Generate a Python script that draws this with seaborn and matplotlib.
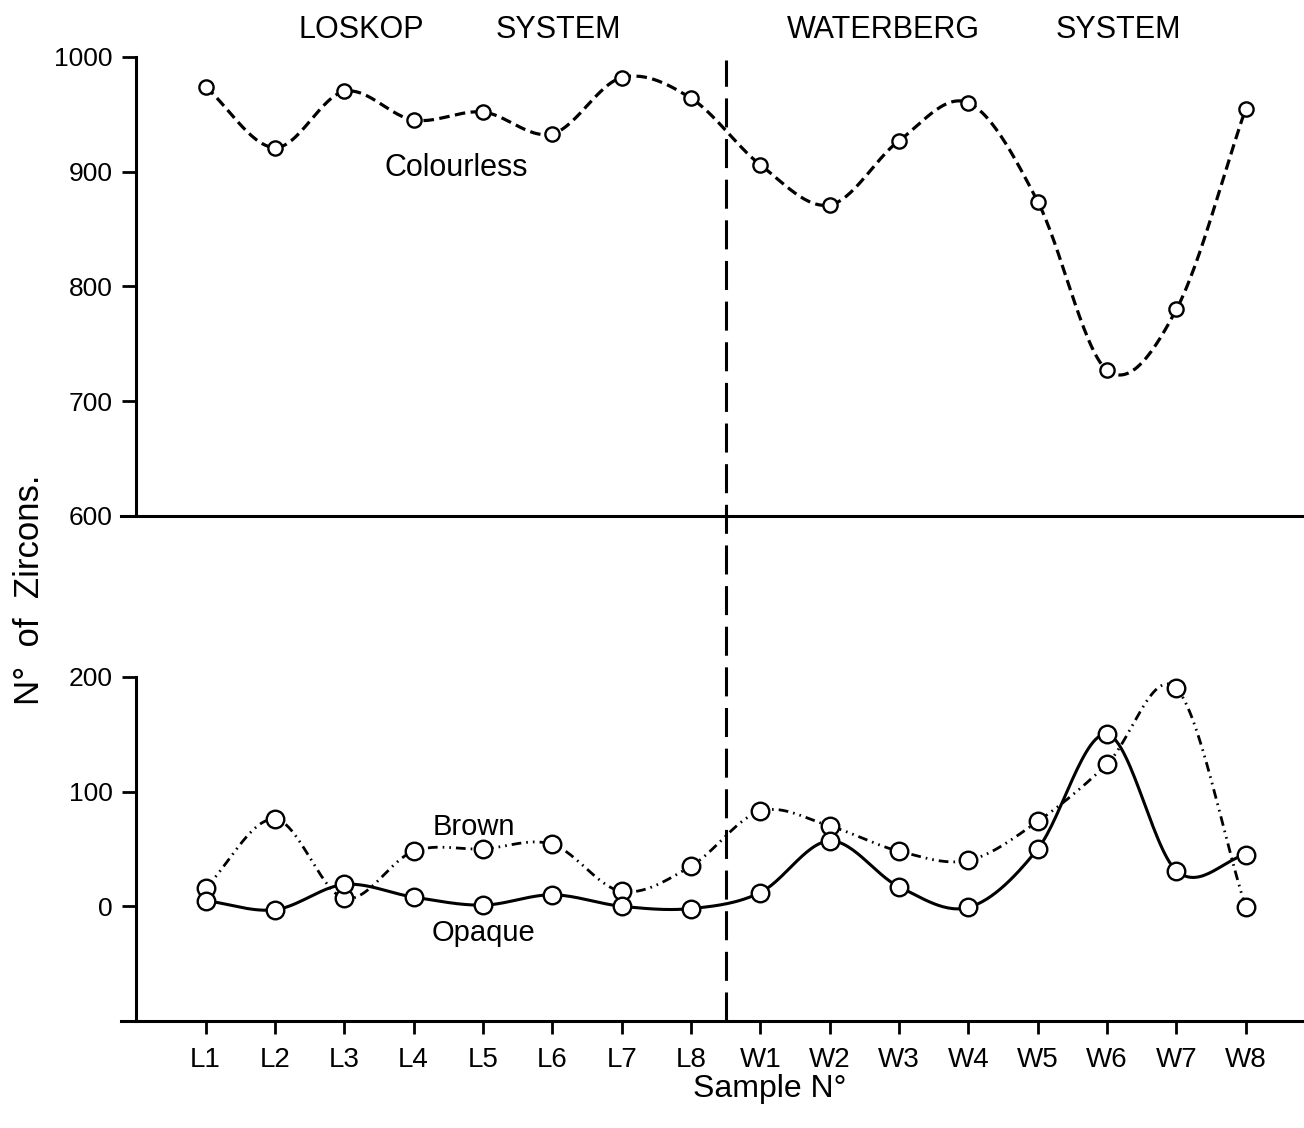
import numpy as np
import matplotlib
matplotlib.use("Agg")
import matplotlib.pyplot as plt
import matplotlib.transforms as mtransforms
from matplotlib.lines import Line2D
import seaborn as sns

# ─────────────────────────────────────────────────────────────
# DATA
# ─────────────────────────────────────────────────────────────
samples = ["L1", "L2", "L3", "L4", "L5", "L6", "L7", "L8",
           "W1", "W2", "W3", "W4", "W5", "W6", "W7", "W8"]
colourless = [974, 921, 970, 945, 952, 933, 982, 964,
              906, 871, 927, 960, 874, 727, 780, 955]
brown = [16, 76, 7, 48, 50, 54, 13, 35,
         83, 70, 48, 40, 74, 124, 190, -1]
opaque = [5, -3, 19, 8, 1, 10, 0, -2,
          12, 57, 17, -1, 50, 150, 31, 45]
top_ticks = [600, 700, 800, 900, 1000]
bottom_ticks = [0, 100, 200]
systems = ["LOSKOP", "SYSTEM", "WATERBERG", "SYSTEM"]

sns.set_style("white")
plt.rcParams['font.family'] = ['Liberation Sans', 'DejaVu Sans']
plt.rcParams['text.color'] = 'black'
plt.rcParams['axes.labelcolor'] = 'black'
plt.rcParams['xtick.color'] = 'black'
plt.rcParams['ytick.color'] = 'black'


def smooth_curve(xv, yv, n=30):
    """Catmull-Rom curve through the points, for a hand-drawn look."""
    p = np.column_stack([xv, yv]).astype(float)
    p = np.vstack([2 * p[0] - p[1], p, 2 * p[-1] - p[-2]])
    t = np.linspace(0, 1, n, endpoint=False)[:, None]
    out = []
    for i in range(1, len(p) - 2):
        p0, p1, p2, p3 = p[i - 1], p[i], p[i + 1], p[i + 2]
        seg = 0.5 * (2 * p1 + (-p0 + p2) * t
                     + (2 * p0 - 5 * p1 + 4 * p2 - p3) * t ** 2
                     + (-p0 + 3 * p1 - 3 * p2 + p3) * t ** 3)
        out.append(seg)
    out.append(p[-2][None, :])
    out = np.vstack(out)
    return out[:, 0], out[:, 1]


def draw_series(ax, xv, yv, ls, lw, msize):
    cx, cy = smooth_curve(xv, yv)
    sns.lineplot(x=cx, y=cy, ax=ax, sort=False, estimator=None,
                 color="black", lw=lw, linestyle=ls, zorder=3)
    sns.scatterplot(x=xv, y=yv, ax=ax, s=msize, marker="o",
                    color="white", edgecolor="black", linewidth=1.7, zorder=5)


fig = plt.figure(figsize=(13.04, 11.28), dpi=100)
ax_top = fig.add_axes([0.0928, 0.5426, 0.9072, 0.4069])
ax_bot = fig.add_axes([0.0928, 0.0949, 0.9072, 0.3050])

xpos = np.arange(len(samples))
xlim = (-1.22, 15.84)

# ── top panel: colourless ───────────────────────────────────
draw_series(ax_top, xpos, colourless, (0, (3.3, 1.7)), 2.3, 105)
ax_top.set_xlim(*xlim)
ax_top.set_ylim(600, 1000)
ax_top.set_yticks(top_ticks)
ax_top.set_xticks([])

# ── bottom panel: brown + opaque ────────────────────────────
draw_series(ax_bot, xpos, brown, (0, (3.5, 1.8, 0.6, 1.8, 0.6, 1.8)), 2.0, 160)
draw_series(ax_bot, xpos, opaque, "-", 2.2, 160)
ax_bot.set_xlim(*xlim)
ax_bot.set_ylim(-100, 200)
ax_bot.set_yticks(bottom_ticks)
ax_bot.set_xticks(xpos)
ax_bot.set_xticklabels(samples)

for ax in (ax_top, ax_bot):
    ax.set_facecolor("white")
    ax.spines['top'].set_visible(False)
    ax.spines['right'].set_visible(False)
    ax.spines['left'].set_position(('data', -1.0))
    for s in ('left', 'bottom'):
        ax.spines[s].set_linewidth(2.2)
        ax.spines[s].set_color("black")
    ax.tick_params(axis='y', direction='out', length=10, width=2,
                   labelsize=19, pad=7, left=True, colors="black")
    ax.set_xlabel("")
    ax.set_ylabel("")
ax_bot.tick_params(axis='x', direction='out', length=9, width=2,
                   labelsize=20, pad=10, bottom=True, colors="black")

# ── vertical divider spanning both panels ───────────────────
trans = mtransforms.blended_transform_factory(ax_top.transData, fig.transFigure)
fig.add_artist(Line2D([7.5, 7.5], [1 - 1021 / 1128, 1 - 60 / 1128],
                      transform=trans, color="black", lw=2.2,
                      linestyle=(0, (9.5, 3.8))))

# ── annotations ─────────────────────────────────────────────
for label, x in zip(systems, [2.24, 5.09, 9.78, 13.17]):
    ax_top.text(x, 1023.5, label, ha="center", va="center", fontsize=22,
                clip_on=False)
ax_top.text(3.61, 903, "Colourless", ha="center", va="center", fontsize=22)
ax_bot.text(3.87, 69, "Brown", ha="center", va="center", fontsize=21)
ax_bot.text(4.01, -23, "Opaque", ha="center", va="center", fontsize=21)

fig.text(30 / 1304, 1 - 590 / 1128, "N°  of  Zircons.", rotation=90,
         ha="center", va="center", fontsize=25)
fig.text(770 / 1304, 1 - 1089 / 1128, "Sample N°", ha="center", va="center",
         fontsize=23)

fig.savefig("out.png", dpi=100, facecolor="white")
